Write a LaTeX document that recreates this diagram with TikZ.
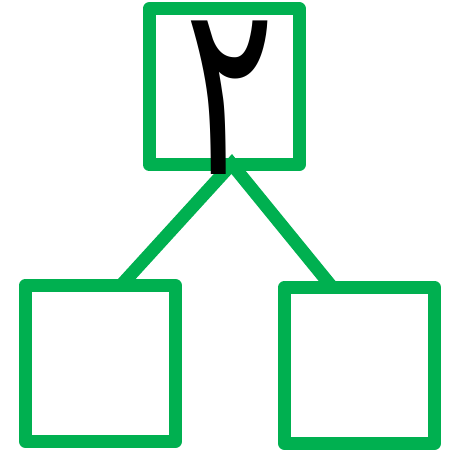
\documentclass[tikz,border=0pt]{standalone}
\usepackage{fontspec}
\usepackage{xcolor}
\usepackage{graphicx}
\usetikzlibrary{calc}
\newfontfamily\arabicfont[Script=Arabic]{DejaVu Sans}
\TeXXeTstate=1
\definecolor{Leaf}{HTML}{00B050}
\definecolor{Ink}{HTML}{000000}
\tikzset{
  cell/.style={draw=Leaf,line width=13pt,line join=round,minimum width=150pt,minimum height=156pt,inner sep=0pt,outer sep=0pt},
  digit/.style={inner sep=0pt,text=Ink,font=\arabicfont\fontsize{242}{242}\selectfont},
  link/.style={draw=Leaf,line width=13pt}
}

\begin{document}
\begin{tikzpicture}[x=1pt,y=-1pt]
  \useasboundingbox (0,0) rectangle (456,454);
  \node[cell] (root) at (224.2,86.7) {};
  \node[cell] (left) at (100.4,363.4) {};
  \node[cell] (right) at (359.5,365.3) {};
  \coordinate (fork) at (231.7,164);
  \coordinate (lend) at ($(left.north)+(20.6,0)$);
  \coordinate (rend) at ($(right.north)+(-27.3,0)$);
  \draw[link] (lend) -- (fork) -- (rend);
  \node[digit] (two) at (230.3,98) {\scalebox{0.7}[1]{\beginR ٢\endR}};
\end{tikzpicture}
\end{document}
